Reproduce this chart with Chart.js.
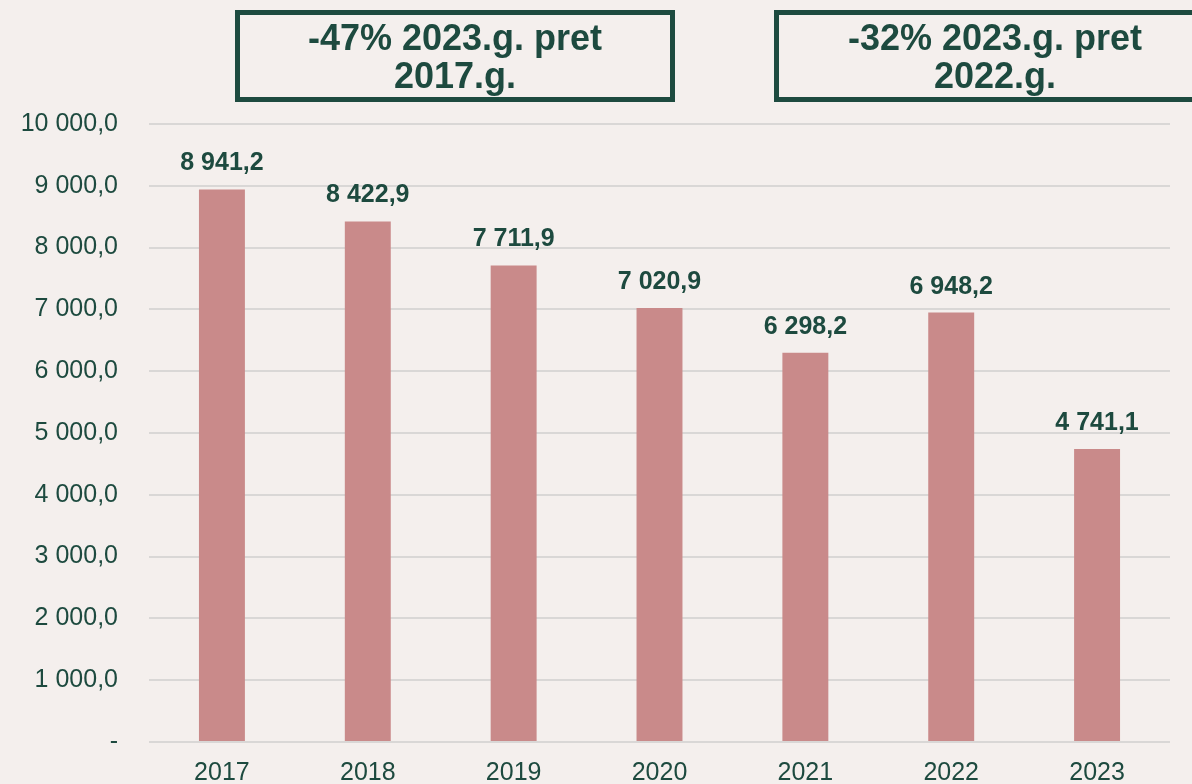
<!DOCTYPE html>
<html>
<head>
<meta charset="utf-8">
<script src="https://cdn.jsdelivr.net/npm/chart.js@4"></script>
<style>
  html, body { margin: 0; padding: 0; background: #f4efed; overflow: hidden; }
  canvas { display: block; }
</style>
</head>
<body>
<canvas id="myChart" width="1192" height="784"></canvas>
<script>
const years = ["2017", "2018", "2019", "2020", "2021", "2022", "2023"];
const values = [8941.2, 8422.9, 7711.9, 7020.9, 6298.2, 6948.2, 4741.1];
const noteLeft = ["-47% 2023.g. pret", "2017.g."];
const noteRight = ["-32% 2023.g. pret", "2022.g."];

const green = "#1d4a3f";
const fontName = "'Liberation Sans', Arial, sans-serif";

function fmt(v, dec) {
    const parts = v.toFixed(dec).split(".");
    const intPart = parts[0].replace(/\B(?=(\d{3})+(?!\d))/g, " ");
    return intPart + "," + parts[1];
}

const extras = {
    id: "extras",
    afterDatasetsDraw(chart) {
        const c = chart.ctx;
        const meta = chart.getDatasetMeta(0);
        c.save();
        c.fillStyle = green;
        c.font = "bold 25px " + fontName;
        c.textAlign = "center";
        c.textBaseline = "alphabetic";
        meta.data.forEach((bar, i) => {
            c.fillText(fmt(values[i], 1), bar.x, bar.y - 19);
        });

        // note boxes
        c.strokeStyle = green;
        c.lineWidth = 5;
        c.strokeRect(237.5, 12.5, 435, 87);
        c.strokeRect(776.5, 12.5, 440, 87);
        c.font = "bold 36px " + fontName;
        c.fillText(noteLeft[0], 455, 50);
        c.fillText(noteLeft[1], 455, 88);
        c.fillText(noteRight[0], 995, 50);
        c.fillText(noteRight[1], 995, 88);
        c.restore();
    }
};

const ctx = document.getElementById("myChart").getContext("2d");
const myChart = new Chart(ctx, {
    type: "bar",
    data: {
        labels: years,
        datasets: [{
            data: values,
            backgroundColor: "#c98a8a",
            borderWidth: 0,
            categoryPercentage: 1,
            barPercentage: 0.315
        }]
    },
    options: {
        responsive: false,
        animation: false,
        layout: { padding: { top: 124, right: 22, bottom: 0, left: 0 } },
        plugins: {
            legend: { display: false },
            tooltip: { enabled: false }
        },
        scales: {
            y: {
                min: 0,
                max: 10000,
                afterFit(scale) {
                    scale.width = 149;
                    scale.paddingTop = 0;
                    scale.paddingBottom = 0;
                },
                ticks: {
                    stepSize: 1000,
                    color: green,
                    padding: 31,
                    font: { family: fontName, size: 25 },
                    callback: v => v === 0 ? "-" : fmt(v, 1)
                },
                grid: { color: "#d9d7d6", lineWidth: 2, drawTicks: false },
                border: { display: false }
            },
            x: {
                afterFit(scale) {
                    scale.height = 42;
                    scale.paddingLeft = 0;
                    scale.paddingRight = 0;
                },
                ticks: {
                    color: green,
                    padding: 19,
                    font: { family: fontName, size: 25, lineHeight: 1 }
                },
                grid: { display: false, drawTicks: false },
                border: { display: false }
            }
        }
    },
    plugins: [extras]
});
</script>
</body>
</html>
